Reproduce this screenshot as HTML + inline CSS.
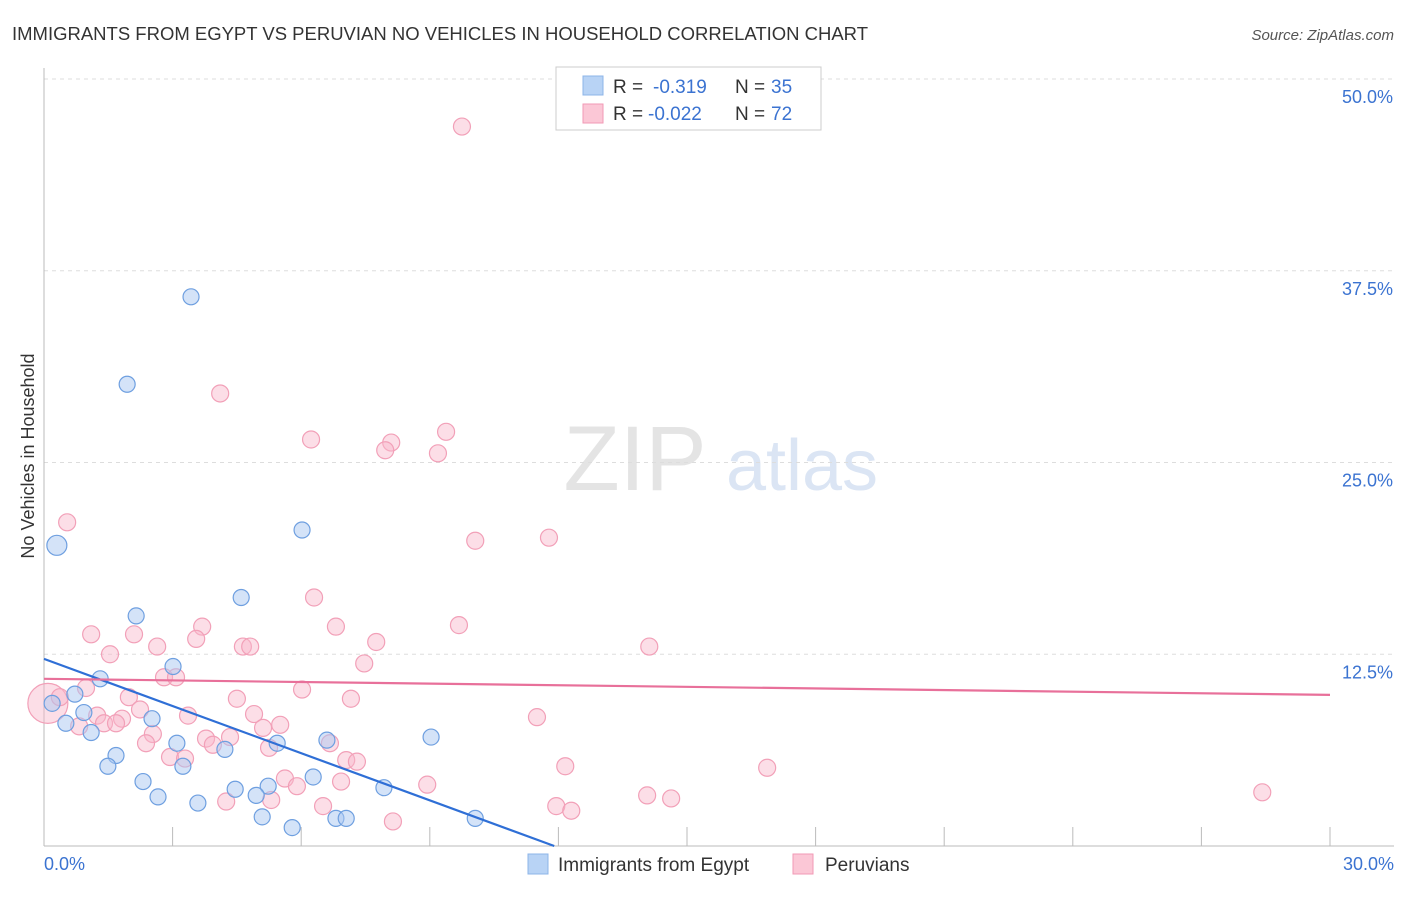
<!DOCTYPE html>
<html><head><meta charset="utf-8"><style>
body{margin:0;background:#fff;font-family:"Liberation Sans",sans-serif}
svg text{font-family:"Liberation Sans",sans-serif}
</style></head><body>
<svg id="c" width="1406" height="892" xmlns="http://www.w3.org/2000/svg">
<text x="12" y="40" font-size="18" fill="#333" textLength="856" lengthAdjust="spacingAndGlyphs">IMMIGRANTS FROM EGYPT VS PERUVIAN NO VEHICLES IN HOUSEHOLD CORRELATION CHART</text>
<text x="1394" y="40" font-size="15" fill="#555" font-style="italic" text-anchor="end">Source: ZipAtlas.com</text>
<g><text x="635" y="490" font-size="92" fill="#e4e4e4" font-family="Liberation Serif" text-anchor="middle">ZIP</text><text x="802" y="490" font-size="72" fill="#dbe5f4" text-anchor="middle">atlas</text></g>
<g id="grid"></g><g id="axes"></g><g id="pts"></g><g id="trend"></g>
<text x="34" y="456" font-size="18" fill="#333" transform="rotate(-90 34 456)" text-anchor="middle">No Vehicles in Household</text>
<g>
<rect x="556" y="67" width="265" height="63" fill="#fff" stroke="#ccc"/>
<rect x="583" y="76" width="20" height="19" fill="#b8d3f5" stroke="#8db4e8"/>
<rect x="583" y="104" width="20" height="19" fill="#fbc7d6" stroke="#f29ab5"/>
<text x="613" y="93" font-size="19" fill="#333">R =</text><text x="653" y="93" font-size="19" fill="#3b73d1">-0.319</text><text x="735" y="93" font-size="19" fill="#333">N =</text><text x="771" y="93" font-size="19" fill="#3b73d1">35</text>
<text x="613" y="120" font-size="19" fill="#333">R =</text><text x="648" y="120" font-size="19" fill="#3b73d1">-0.022</text><text x="735" y="120" font-size="19" fill="#333">N =</text><text x="771" y="120" font-size="19" fill="#3b73d1">72</text>
</g>
<g>
<rect x="528" y="854" width="20" height="20" fill="#b8d3f5" stroke="#8db4e8"/><text x="558" y="871" font-size="19" fill="#333">Immigrants from Egypt</text>
<rect x="793" y="854" width="20" height="20" fill="#fbc7d6" stroke="#f29ab5"/><text x="825" y="871" font-size="19" fill="#333">Peruvians</text>
</g>
</svg>
<script>
const yTicks=[12.5,25,37.5,50];
const yTickLabels=["12.5%","25.0%","37.5%","50.0%"];
const xEnds=["0.0%","30.0%"];
const egyptX=[0.30,3.43,1.94,6.02,4.60,2.15,3.01,1.31,0.72,0.19,0.93,0.51,2.52,1.10,3.10,4.22,5.44,6.60,9.03,1.68,1.49,3.24,2.31,6.28,4.46,5.23,7.93,2.66,3.59,4.95,5.09,5.79,6.81,7.05,10.06];
const egyptY=[19.6,35.8,30.1,20.6,16.2,15.0,11.7,10.9,9.9,9.3,8.7,8.0,8.3,7.4,6.7,6.3,6.7,6.9,7.1,5.9,5.2,5.2,4.2,4.5,3.7,3.9,3.8,3.2,2.8,3.3,1.9,1.2,1.8,1.8,1.8];
const peruX=[9.75,4.11,6.23,8.10,7.96,9.38,9.19,0.54,10.06,11.78,6.30,3.69,6.81,9.68,1.10,2.10,3.55,7.75,2.64,4.64,4.81,14.12,1.54,7.47,2.80,3.08,0.98,6.02,1.98,4.50,7.16,0.09,0.37,2.24,3.36,4.90,11.50,1.24,1.82,1.40,1.68,5.51,5.11,0.82,2.54,4.34,3.78,2.38,3.94,6.67,5.25,2.94,3.29,7.05,7.30,12.16,16.87,5.62,6.93,5.90,8.94,4.25,5.30,6.51,11.95,12.30,14.07,14.63,28.42,8.14];
const peruY=[46.9,29.5,26.5,26.3,25.8,27.0,25.6,21.1,19.9,20.1,16.2,14.3,14.3,14.4,13.8,13.8,13.5,13.3,13.0,13.0,13.0,13.0,12.5,11.9,11.0,11.0,10.3,10.2,9.7,9.6,9.6,9.3,9.7,8.9,8.5,8.6,8.4,8.5,8.3,8.0,8.0,7.9,7.7,7.8,7.3,7.1,7.0,6.7,6.6,6.7,6.4,5.8,5.7,5.6,5.5,5.2,5.1,4.4,4.2,3.9,4.0,2.9,3.0,2.6,2.6,2.3,3.3,3.1,3.5,1.6];
const egyptTrend=[12.2,-1.025];
const peruTrend=[10.9,-0.035];
const X=v=>44+v/30*1286, Y=v=>846-v/50*767;
const NS="http://www.w3.org/2000/svg";
function mk(p,t,a){const e=document.createElementNS(NS,t);for(const k in a)e.setAttribute(k,a[k]);document.getElementById(p).appendChild(e);return e;}
yTicks.forEach((t,i)=>{
 const l=mk('grid','line',{x1:44,x2:1394,y1:Y(t),y2:Y(t),stroke:'#ddd','stroke-dasharray':'4 4'});
 
 
 const tx=mk('grid','text',{x:1393,y:Y(t)+24,'font-size':18,fill:'#3b73d1','text-anchor':'end'});tx.textContent=yTickLabels[i];
 
 
});
const ax=mk('axes','line',{x1:44,x2:1394,y1:846,y2:846,stroke:'#bbb'});


const ay=mk('axes','line',{x1:44,x2:44,y1:68,y2:846,stroke:'#bbb'});


for(let i=0;i<=10;i++){const t=mk('axes','line',{x1:X(i*3),x2:X(i*3),y1:827,y2:846,stroke:'#bbb'});
 
 }
const xl=mk('axes','text',{x:44,y:870,'font-size':18,fill:'#3b73d1'});xl.textContent=xEnds[0];


const xr=mk('axes','text',{x:1394,y:870,'font-size':18,fill:'#3b73d1','text-anchor':'end'});xr.textContent=xEnds[1];


peruX.forEach((x,i)=>{const c=mk('pts','circle',{cx:X(x),cy:Y(peruY[i]),r:i==31?20:8.5,fill:'rgba(248,182,202,0.45)',stroke:'#f2a0b8','stroke-width':1.2});
 
 });
egyptX.forEach((x,i)=>{const c=mk('pts','circle',{cx:X(x),cy:Y(egyptY[i]),r:i==0?10:8,fill:'rgba(170,200,242,0.5)',stroke:'#6e9fe0','stroke-width':1.2});
 
 });
const x1e=egyptTrend[0]/-egyptTrend[1];
const te=mk('trend','line',{x1:X(0),y1:Y(egyptTrend[0]),x2:X(x1e),y2:Y(0),stroke:'#2f6fd6','stroke-width':2.2});


const tp=mk('trend','line',{x1:X(0),y1:Y(peruTrend[0]),x2:X(30),y2:Y(peruTrend[0]+peruTrend[1]*30),stroke:'#e8709a','stroke-width':2.2});


</script>
</body></html>
